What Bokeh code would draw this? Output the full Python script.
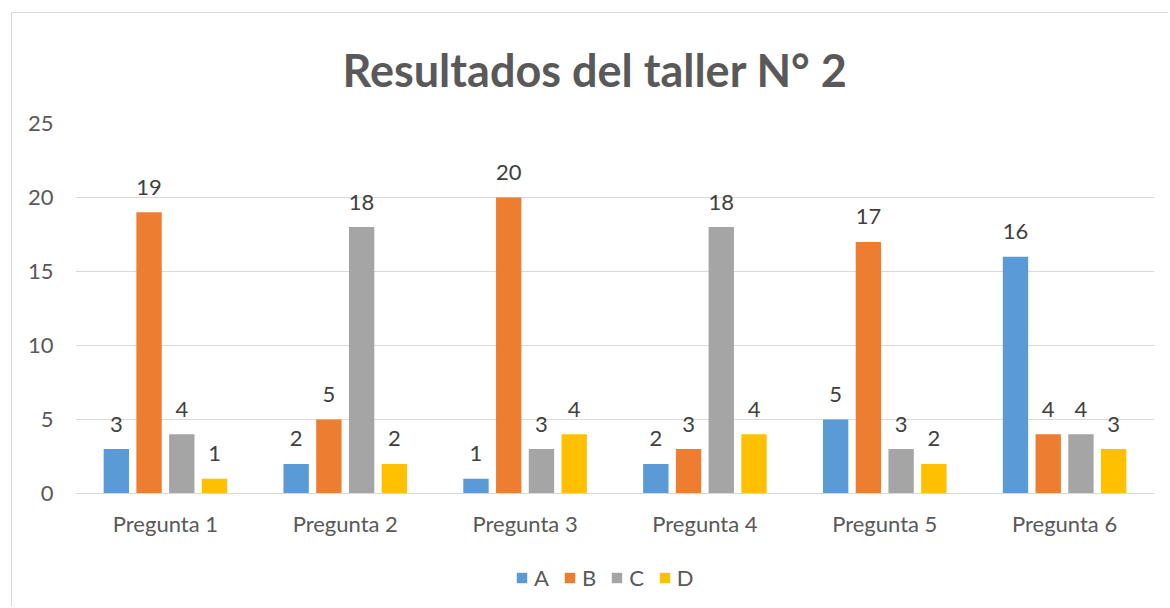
from bokeh.plotting import figure
from bokeh.models import ColumnDataSource, FactorRange, Range1d, Legend, LegendItem, FixedTicker, Title
from bokeh.layouts import column
from bokeh.transform import dodge
from bokeh.core.properties import value
from bokeh.embed import file_html
from bokeh.resources import INLINE

categories = ["Pregunta 1", "Pregunta 2", "Pregunta 3", "Pregunta 4", "Pregunta 5", "Pregunta 6"]
series_names = ["A", "B", "C", "D"]
values_a = [3, 2, 1, 2, 5, 16]
values_b = [19, 5, 20, 3, 17, 4]
values_c = [4, 18, 3, 18, 3, 4]
values_d = [1, 2, 4, 4, 2, 3]
y_ticks = [0, 5, 10, 15, 20, 25]
title_text = "Resultados del taller N° 2"

colors = ["#5B9BD5", "#ED7D31", "#A5A5A5", "#FFC000"]
offsets = [-0.273, -0.091, 0.091, 0.273]
FONT = "Lato"

p = figure(
    x_range=FactorRange(*categories, range_padding=0),
    y_range=Range1d(0, 25),
    width=1156, height=532,
    output_backend="svg", toolbar_location=None,
    min_border_left=63, min_border_right=14, min_border_top=110, min_border_bottom=52,
)
p.outline_line_color = None
p.background_fill_color = "white"
p.border_fill_color = "white"

p.title = Title(text=title_text, text_font=FONT, text_font_size="45px", text_font_style="bold",
                text_color="#595959", align="left", offset=267, standoff=54)

p.xgrid.grid_line_color = None
p.ygrid.grid_line_color = "#D9D9D9"
p.ygrid.grid_line_width = 1

p.yaxis.ticker = FixedTicker(ticks=y_ticks)
p.yaxis.axis_line_color = None
p.yaxis.major_tick_line_color = None
p.yaxis.minor_tick_line_color = None
p.yaxis.major_tick_out = 0
p.yaxis.major_label_standoff = 22
p.yaxis.major_label_text_font = FONT
p.yaxis.major_label_text_font_size = "22px"
p.yaxis.major_label_text_color = "#595959"

p.xaxis.axis_line_color = "#D9D9D9"
p.xaxis.major_tick_line_color = None
p.xaxis.minor_tick_line_color = None
p.xaxis.major_tick_out = 0
p.xaxis.major_label_standoff = 16
p.xaxis.major_label_text_font = FONT
p.xaxis.major_label_text_font_size = "22px"
p.xaxis.major_label_text_color = "#595959"

data = dict(cat=categories, A=values_a, B=values_b, C=values_c, D=values_d)
for s in series_names:
    data[s + "_lbl"] = [str(v) for v in data[s]]
source = ColumnDataSource(data)

for s, col, off in zip(series_names, colors, offsets):
    p.vbar(x=dodge("cat", off, range=p.x_range), top=s, width=0.141, bottom=0,
           source=source, fill_color=col, line_color=None)
    p.text(x=dodge("cat", off, range=p.x_range), y=s, text=s + "_lbl", source=source,
           text_font=value(FONT), text_font_size="22px", text_color="#404040",
           text_align="center", text_baseline="alphabetic", y_offset=-25)

# legend strip below the chart
pl = figure(x_range=p.x_range, y_range=p.y_range, width=1156, height=61,
            x_axis_type=None, y_axis_type=None,
            output_backend="svg", toolbar_location=None,
            min_border_left=0, min_border_right=0, min_border_top=0, min_border_bottom=0)
pl.outline_line_color = None
pl.background_fill_color = "white"
pl.border_fill_color = "white"
items = []
for s, col, off in zip(series_names, colors, offsets):
    r = pl.vbar(x=dodge("cat", off, range=p.x_range), top=s, width=0.141, bottom=0,
                source=source, fill_color=col, line_color=None, visible=False)
    items.append(LegendItem(label=s, renderers=[r]))

legend = Legend(items=items, orientation="horizontal", location=(440, 15),
                glyph_width=13, glyph_height=13, label_standoff=6, spacing=14,
                label_width=13, label_height=13, padding=0, margin=0,
                label_text_font=FONT, label_text_font_size="22px", label_text_color="#595959",
                border_line_color=None, background_fill_alpha=0, inactive_fill_alpha=0)
pl.add_layout(legend, "center")

layout = column(p, pl, spacing=0)
layout.styles = {"border-left": "1px solid #d9d9d9", "border-top": "1px solid #d9d9d9",
                 "margin-left": "11px", "margin-top": "12px"}

open("out.html", "w").write(file_html(layout, INLINE))
